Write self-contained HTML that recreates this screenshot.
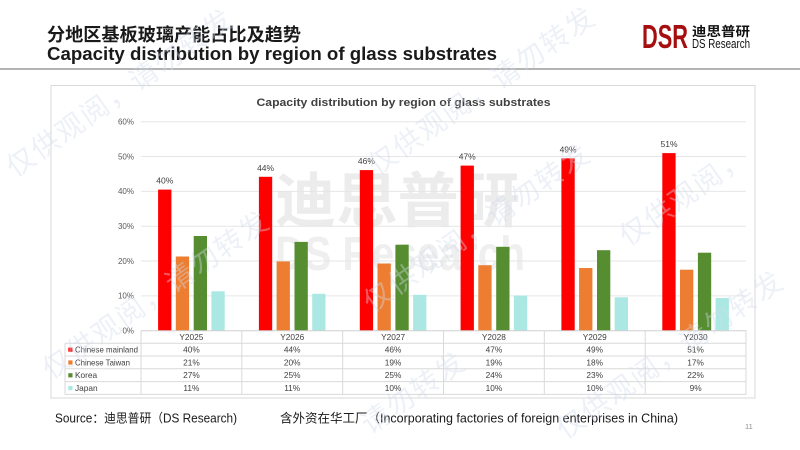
<!DOCTYPE html>
<html><head><meta charset="utf-8">
<style>
html,body{margin:0;padding:0;background:#fff;width:800px;height:450px;overflow:hidden;}
svg{display:block;overflow:hidden;}
</style></head>
<body>
<svg width="800" height="450" viewBox="0 0 800 450" xmlns="http://www.w3.org/2000/svg" font-family="'Liberation Sans','Noto Sans CJK SC',sans-serif">
<rect width="800" height="450" fill="#fff"/>

<!-- Header -->
<text x="47" y="41" font-size="18" font-weight="bold" fill="#1a1a1a" textLength="254" lengthAdjust="spacingAndGlyphs">分地区基板玻璃产能占比及趋势</text>
<text x="47" y="60" font-size="18" font-weight="bold" fill="#1a1a1a" textLength="450" lengthAdjust="spacingAndGlyphs">Capacity distribution by region of glass substrates</text>
<rect x="0" y="68" width="800" height="2" fill="#b4b4b4"/>

<!-- Logo -->
<text x="642" y="48" font-size="33" font-weight="bold" fill="#a50f10" textLength="46" lengthAdjust="spacingAndGlyphs">DSR</text>
<text x="692" y="36" font-size="13" font-weight="bold" fill="#111" textLength="58" lengthAdjust="spacingAndGlyphs">迪思普研</text>
<text x="692" y="48" font-size="12.5" fill="#111" textLength="58" lengthAdjust="spacingAndGlyphs">DS Research</text>

<!-- Chart box -->
<rect x="51" y="85.5" width="704" height="312.5" fill="#fff" stroke="#d9d9d9" stroke-width="1"/>

<!-- big watermark -->
<text x="275" y="222" font-size="60" font-weight="bold" fill="#ececec" textLength="245" lengthAdjust="spacingAndGlyphs">迪思普研</text>
<text x="275" y="270" font-size="48" font-weight="bold" fill="#efefef" textLength="250" lengthAdjust="spacingAndGlyphs">DS Research</text>

<!-- chart title -->
<text x="403.5" y="106" font-size="11" font-weight="bold" fill="#404040" text-anchor="middle" textLength="294" lengthAdjust="spacingAndGlyphs">Capacity distribution by region of glass substrates</text>

<!-- gridlines -->
<g stroke="#e6e6e6" stroke-width="1">
<line x1="141" y1="121.7" x2="746" y2="121.7"/>
<line x1="141" y1="156.5" x2="746" y2="156.5"/>
<line x1="141" y1="191.4" x2="746" y2="191.4"/>
<line x1="141" y1="226.2" x2="746" y2="226.2"/>
<line x1="141" y1="261.0" x2="746" y2="261.0"/>
<line x1="141" y1="295.9" x2="746" y2="295.9"/>
</g>

<!-- y labels -->
<g font-size="8" fill="#595959" text-anchor="end">
<text x="134" y="124.5">60%</text>
<text x="134" y="159.3">50%</text>
<text x="134" y="194.2">40%</text>
<text x="134" y="229">30%</text>
<text x="134" y="263.8">20%</text>
<text x="134" y="298.7">10%</text>
<text x="134" y="333.5">0%</text>
</g>

<!-- bars -->
<g fill="#ff0000">
<rect x="158.1" y="189.6" width="13.3" height="141.1"/>
<rect x="258.9" y="176.8" width="13.3" height="153.9"/>
<rect x="359.8" y="170.1" width="13.3" height="160.6"/>
<rect x="460.6" y="165.6" width="13.3" height="165.1"/>
<rect x="561.4" y="158.3" width="13.3" height="172.4"/>
<rect x="662.3" y="153.1" width="13.3" height="177.6"/>
</g>
<g fill="#ed7d31">
<rect x="175.8" y="256.5" width="13.3" height="74.2"/>
<rect x="276.6" y="261.4" width="13.3" height="69.3"/>
<rect x="377.5" y="263.5" width="13.3" height="67.2"/>
<rect x="478.3" y="265.2" width="13.3" height="65.5"/>
<rect x="579.1" y="268.0" width="13.3" height="62.7"/>
<rect x="680.0" y="269.7" width="13.3" height="61.0"/>
</g>
<g fill="#568d31">
<rect x="193.7" y="236.0" width="13.3" height="94.7"/>
<rect x="294.5" y="241.9" width="13.3" height="88.8"/>
<rect x="395.4" y="244.7" width="13.3" height="86.0"/>
<rect x="496.2" y="246.8" width="13.3" height="83.9"/>
<rect x="597.0" y="250.2" width="13.3" height="80.5"/>
<rect x="697.9" y="252.7" width="13.3" height="78.0"/>
</g>
<g fill="#abe8e3">
<rect x="211.4" y="291.3" width="13.3" height="39.4"/>
<rect x="312.2" y="293.8" width="13.3" height="36.9"/>
<rect x="413.1" y="294.8" width="13.3" height="35.9"/>
<rect x="513.9" y="295.5" width="13.3" height="35.2"/>
<rect x="614.7" y="297.3" width="13.3" height="33.4"/>
<rect x="715.6" y="298.0" width="13.3" height="32.7"/>
</g>

<!-- data labels -->
<g font-size="8.5" fill="#404040" text-anchor="middle">
<text x="164.8" y="183.6">40%</text>
<text x="265.6" y="170.8">44%</text>
<text x="366.4" y="164.1">46%</text>
<text x="467.2" y="159.6">47%</text>
<text x="568.1" y="152.3">49%</text>
<text x="669.0" y="147.1">51%</text>
</g>

<!-- table lines -->
<g stroke="#d9d9d9" stroke-width="1">
<line x1="141" y1="330.7" x2="746.5" y2="330.7" stroke="#d0d0d0"/>
<line x1="65" y1="343.3" x2="746.5" y2="343.3"/>
<line x1="65" y1="356" x2="746.5" y2="356"/>
<line x1="65" y1="368.8" x2="746.5" y2="368.8"/>
<line x1="65" y1="381.6" x2="746.5" y2="381.6"/>
<line x1="65" y1="394.4" x2="746.5" y2="394.4"/>
<line x1="65" y1="343.3" x2="65" y2="394.4"/>
<line x1="141" y1="330.7" x2="141" y2="394.4"/>
<line x1="241.8" y1="330.7" x2="241.8" y2="394.4"/>
<line x1="342.7" y1="330.7" x2="342.7" y2="394.4"/>
<line x1="443.5" y1="330.7" x2="443.5" y2="394.4"/>
<line x1="544.3" y1="330.7" x2="544.3" y2="394.4"/>
<line x1="645.2" y1="330.7" x2="645.2" y2="394.4"/>
<line x1="746" y1="330.7" x2="746" y2="394.4"/>
</g>

<!-- legend col -->
<rect x="68.3" y="347.6" width="4.2" height="4.2" fill="#ff0000"/>
<rect x="68.3" y="360.4" width="4.2" height="4.2" fill="#ed7d31"/>
<rect x="68.3" y="373.2" width="4.2" height="4.2" fill="#568d31"/>
<rect x="68.3" y="386" width="4.2" height="4.2" fill="#abe8e3"/>
<g font-size="8.3" fill="#404040">
<text x="75" y="352.6" textLength="63" lengthAdjust="spacingAndGlyphs">Chinese mainland</text>
<text x="75" y="365.4" textLength="55" lengthAdjust="spacingAndGlyphs">Chinese Taiwan</text>
<text x="75" y="378.2">Korea</text>
<text x="75" y="391">Japan</text>
</g>

<!-- table values -->
<g font-size="8.3" fill="#404040" text-anchor="middle">
<text x="191.4" y="340">Y2025</text>
<text x="292.2" y="340">Y2026</text>
<text x="393.1" y="340">Y2027</text>
<text x="493.9" y="340">Y2028</text>
<text x="594.7" y="340">Y2029</text>
<text x="695.6" y="340">Y2030</text>

<text x="191.4" y="352.6">40%</text>
<text x="292.2" y="352.6">44%</text>
<text x="393.1" y="352.6">46%</text>
<text x="493.9" y="352.6">47%</text>
<text x="594.7" y="352.6">49%</text>
<text x="695.6" y="352.6">51%</text>

<text x="191.4" y="365.4">21%</text>
<text x="292.2" y="365.4">20%</text>
<text x="393.1" y="365.4">19%</text>
<text x="493.9" y="365.4">19%</text>
<text x="594.7" y="365.4">18%</text>
<text x="695.6" y="365.4">17%</text>

<text x="191.4" y="378.2">27%</text>
<text x="292.2" y="378.2">25%</text>
<text x="393.1" y="378.2">25%</text>
<text x="493.9" y="378.2">24%</text>
<text x="594.7" y="378.2">23%</text>
<text x="695.6" y="378.2">22%</text>

<text x="191.4" y="391">11%</text>
<text x="292.2" y="391">11%</text>
<text x="393.1" y="391">10%</text>
<text x="493.9" y="391">10%</text>
<text x="594.7" y="391">10%</text>
<text x="695.6" y="391">9%</text>
</g>

<!-- source -->
<text x="55" y="422.5" font-size="12.5" fill="#1a1a1a" textLength="182" lengthAdjust="spacingAndGlyphs">Source：迪思普研（DS Research)</text>
<text x="280" y="422.5" font-size="12.5" fill="#1a1a1a" textLength="398" lengthAdjust="spacingAndGlyphs">含外资在华工厂（Incorporating factories of foreign enterprises in China)</text>
<text x="745" y="429" font-size="7.5" fill="#8c8c8c">11</text>

<!-- diagonal watermarks (kept inside the frame) -->
<g font-size="28" fill="#d3dbea" fill-opacity="0.4" letter-spacing="2">
<text transform="translate(15,178) rotate(-35)">仅供观阅，请勿转发</text>
<text transform="translate(377,176) rotate(-35)">仅供观阅，请勿转发</text>
<text transform="translate(51,380) rotate(-35)">仅供观阅，请勿转发</text>
<text transform="translate(372,313) rotate(-35)">仅供观阅，请勿转发</text>
<text transform="translate(628,247) rotate(-35)">仅供观阅，</text>
<text transform="translate(370,435) rotate(-35)">请勿转发</text>
<text transform="translate(565,440) rotate(-35)">仅供观阅，请勿转发</text>
</g>
</svg>
</body></html>
